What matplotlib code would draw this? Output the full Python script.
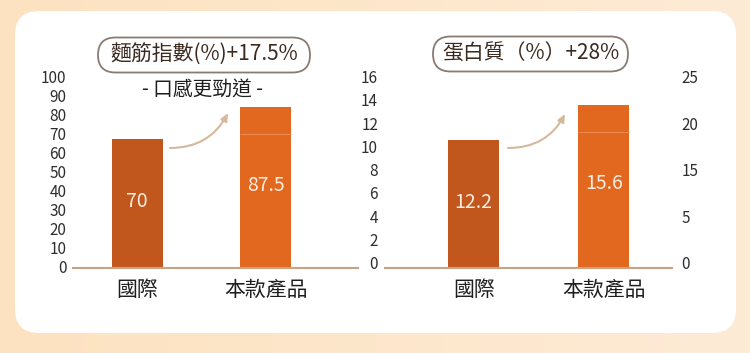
import matplotlib
matplotlib.use("Agg")
import matplotlib.pyplot as plt
import numpy as np
from matplotlib.patches import FancyBboxPatch
from matplotlib.colors import LinearSegmentedColormap

plt.rcParams['font.family'] = ['Noto Sans CJK TC', 'DejaVu Sans']

# ---------------- data ----------------
categories = ['國際', '本款產品']
gluten_values = [70, 87.5]
protein_values = [12.2, 15.6]
gluten_title = '麵筋指數(%)+17.5%'
gluten_subtitle = '- 口感更勁道 -'
protein_title = '蛋白質（%）+28%'
gluten_ticks = list(range(0, 101, 10))
protein_ticks = list(range(0, 17, 2))
protein_right_labels = ['0', '5', '15', '20', '25']

# ---------------- style ----------------
W, H = 750, 353
BAR_COLORS = ['#C2571D', '#E3681F']
BASE_COLOR = '#C9A286'
TICK_COLOR = '#2E2E2E'
VALUE_COLOR = '#FCEDE0'
ARROW_COLOR = '#D6B99D'

fig = plt.figure(figsize=(W / 100, H / 100), dpi=100)


def rect(l, t, r, b):
    return [l / W, 1 - b / H, (r - l) / W, (b - t) / H]


# background + card
bg = fig.add_axes([0, 0, 1, 1], zorder=0)
bg.set_xlim(0, W)
bg.set_ylim(H, 0)
bg.axis('off')
cmap = LinearSegmentedColormap.from_list('bg', ['#FCE2C0', '#FEEBD6'])
grad = np.linspace(0, 1, 256).reshape(1, -1)
bg.imshow(grad, extent=[0, W, H, 0], aspect='auto', cmap=cmap, zorder=0)
card = FancyBboxPatch((15, 11), 721, 322, boxstyle='round,pad=0,rounding_size=24',
                      facecolor='white', edgecolor='none', zorder=1)
bg.add_patch(card)

# title pills
def pill(cx, cy, w, h, text, size):
    p = FancyBboxPatch((cx - w / 2, cy - h / 2), w, h,
                       boxstyle='round,pad=0,rounding_size=%f' % (h / 2),
                       facecolor='white', edgecolor='#8A7B72', linewidth=1.3, zorder=2)
    bg.add_patch(p)
    bg.text(cx, cy, text, ha='center', va='center', fontsize=size,
            color='#3A2A20', zorder=3)

pill(204, 55, 212, 35, gluten_title, 15)
pill(530.5, 54, 195, 35, protein_title, 15)
bg.text(203, 90, gluten_subtitle, ha='center', va='center', fontsize=14.2,
        color='#1E1E1E', zorder=3)


def panel(l, r, bar_top_val, values, tick_axes_rect, ticks, xlim, width):
    # bar axes
    ax = fig.add_axes(rect(l, 76, r, 268.3), zorder=2)
    ax.patch.set_alpha(0)
    bars = ax.bar(range(len(values)), values, width=width, color=BAR_COLORS, zorder=2)
    ax.set_xlim(*xlim)
    ax.set_ylim(0, bar_top_val)
    for s in ['top', 'right', 'left']:
        ax.spines[s].set_visible(False)
    ax.spines['bottom'].set_color(BASE_COLOR)
    ax.spines['bottom'].set_linewidth(1.5)
    ax.set_yticks([])
    ax.set_xticks(range(len(categories)))
    ax.set_xticklabels(categories, fontsize=15, color='#1E1E1E')
    ax.tick_params(axis='x', length=0, pad=8)
    for b, v in zip(bars, values):
        ax.text(b.get_x() + b.get_width() / 2, v * 0.515, f'{v:g}', ha='center',
                va='center', fontsize=14, color=VALUE_COLOR, zorder=3)
    # faint line inside the taller bar
    b2 = bars[1]
    ax.hlines(values[1] * 0.835, b2.get_x(), b2.get_x() + b2.get_width(),
              color='#EE8C55', linewidth=0.7, zorder=3)
    # tick axes
    tx = fig.add_axes(tick_axes_rect, zorder=1)
    tx.patch.set_alpha(0)
    tx.set_ylim(ticks[0], ticks[-1])
    tx.set_yticks(ticks)
    tx.set_yticklabels([str(t) for t in ticks])
    tx.set_xticks([])
    for s in tx.spines.values():
        s.set_visible(False)
    tx.tick_params(axis='y', length=0, pad=5, labelsize=11, labelcolor=TICK_COLOR)
    return ax, tx, bars


axL, txL, barsL = panel(73.3, 358, 192.3 / 1.843, gluten_values,
                        rect(73.3, 76.7, 358, 266.7), gluten_ticks,
                        (-0.496, 1.72), 0.397)
axR, txR, barsR = panel(385, 671.7, 192.3 / 10.5, protein_values,
                        rect(385, 76.7, 671.7, 262.7), protein_ticks,
                        (-0.682, 1.522), 0.39)

# right-side axis for protein panel
tr = txR.twinx()
tr.set_ylim(0, len(protein_right_labels) - 1)
tr.set_yticks(range(len(protein_right_labels)))
tr.set_yticklabels(protein_right_labels)
for s in tr.spines.values():
    s.set_visible(False)
tr.tick_params(axis='y', length=0, pad=7, labelsize=11, labelcolor=TICK_COLOR)

# arrows
def arrow(start, end):
    bg.annotate('', xy=end, xytext=start,
                arrowprops=dict(arrowstyle='-|>,head_length=0.45,head_width=0.2',
                                color=ARROW_COLOR, lw=1.5,
                                connectionstyle='arc3,rad=0.3',
                                shrinkA=0, shrinkB=0), zorder=4)

arrow((170, 148), (228, 113))
arrow((508, 148), (565, 114))

fig.savefig('out.png', dpi=100)
